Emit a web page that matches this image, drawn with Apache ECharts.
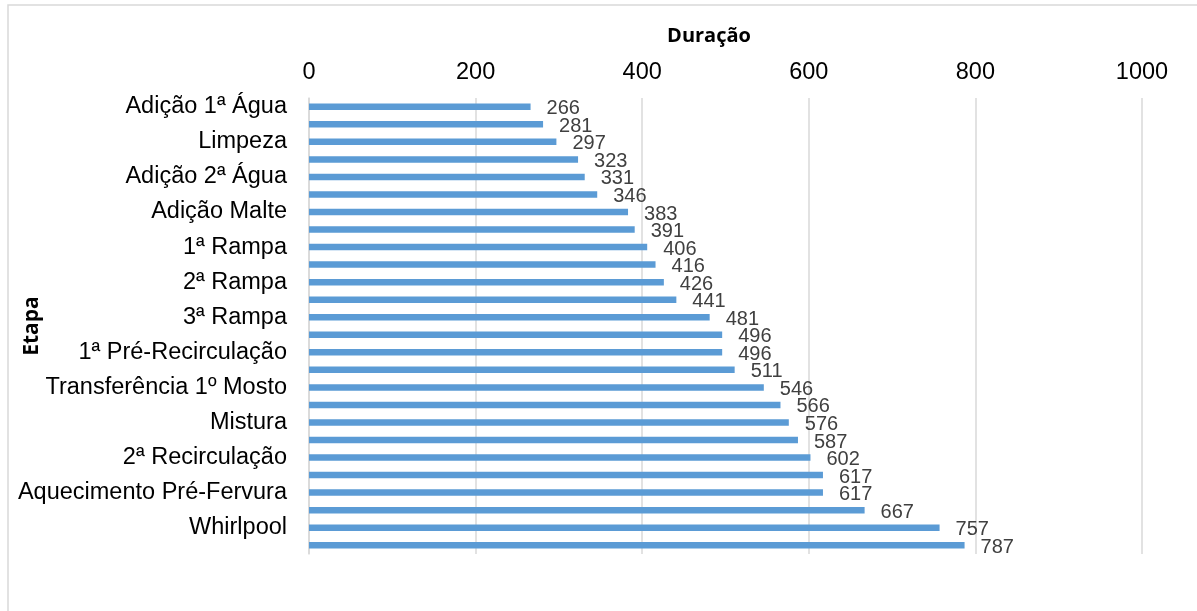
<!DOCTYPE html>
<html>
<head>
<meta charset="utf-8">
<script src="https://cdn.jsdelivr.net/npm/echarts@6/dist/echarts.min.js"></script>
<style>
  html, body { margin: 0; padding: 0; background: #ffffff; }
  #chart { width: 1197px; height: 611px; }
</style>
</head>
<body>
<div id="chart"></div>
<script>
// Brewing steps, ordered by duration (shortest at the top)
const etapas = [
  'Adição 1ª Água', 'Aquecimento 1ª Água', 'Limpeza', 'Moagem',
  'Adição 2ª Água', 'Aquecimento 2ª Água', 'Adição Malte', 'Mosturação',
  '1ª Rampa', '1ª Pausa', '2ª Rampa', '2ª Pausa',
  '3ª Rampa', '3ª Pausa', '1ª Pré-Recirculação', '1ª Recirculação',
  'Transferência 1º Mosto', '2ª Pré-Recirculação', 'Mistura', 'Transferência 2º Mosto',
  '2ª Recirculação', 'Lavagem', 'Aquecimento Pré-Fervura', 'Fervura',
  'Whirlpool', 'Resfriamento'
];

// Duration of each step
const duracao = [
  266, 281, 297, 323, 331, 346, 383, 391, 406, 416, 426, 441, 481,
  496, 496, 511, 546, 566, 576, 587, 602, 617, 617, 667, 757, 787
];

// Value axis ticks
const eixoMin = 0;
const eixoMax = 1000;
const eixoPasso = 200;

const titulo = 'Duração';
const tituloEixoY = 'Etapa';

const sans = '"Liberation Sans", Arial, sans-serif';
const gridColor = '#d9d9d9';

const chart = echarts.init(document.getElementById('chart'), null, { renderer: 'canvas' });

chart.setOption({
  animation: false,
  backgroundColor: '#ffffff',
  grid: { left: 309, right: 55, top: 98, bottom: 57, containLabel: false },
  graphic: [
    {
      type: 'rect',
      shape: { x: 8, y: 5, width: 1300, height: 700 },
      style: { fill: 'none', stroke: gridColor, lineWidth: 1.5 },
      silent: true
    },
    {
      type: 'text',
      x: 709, y: 36,
      style: {
        text: titulo,
        fontFamily: '"Open Sans", sans-serif',
        fontWeight: 'bold',
        fontSize: 20,
        fill: '#000000',
        align: 'center',
        verticalAlign: 'middle'
      }
    },
    {
      type: 'text',
      x: 32, y: 326,
      rotation: Math.PI / 2,
      style: {
        text: tituloEixoY,
        fontFamily: '"Open Sans", sans-serif',
        fontWeight: 'bold',
        fontSize: 21,
        fill: '#000000',
        align: 'center',
        verticalAlign: 'middle'
      }
    }
  ],
  xAxis: {
    type: 'value',
    position: 'top',
    min: eixoMin,
    max: eixoMax,
    interval: eixoPasso,
    axisLine: { show: false },
    axisTick: { show: false },
    axisLabel: {
      color: '#000000',
      fontFamily: sans,
      fontSize: 23.5,
      margin: 13,
      formatter: (v) => String(v)
    },
    splitLine: { show: true, lineStyle: { color: gridColor, width: 1.5 } }
  },
  yAxis: {
    type: 'category',
    data: etapas,
    inverse: true,
    axisLine: { show: true, lineStyle: { color: gridColor, width: 1.5 } },
    axisTick: { show: false },
    axisLabel: {
      interval: 1,
      color: '#000000',
      fontFamily: sans,
      fontSize: 23.5,
      margin: 22
    }
  },
  series: [
    {
      type: 'bar',
      data: duracao,
      barWidth: 6.5,
      itemStyle: { color: '#5b9bd5' },
      label: {
        show: true,
        position: 'right',
        distance: 16,
        offset: [0, 2],
        color: '#404040',
        fontFamily: sans,
        fontSize: 20
      }
    }
  ]
});
</script>
</body>
</html>
